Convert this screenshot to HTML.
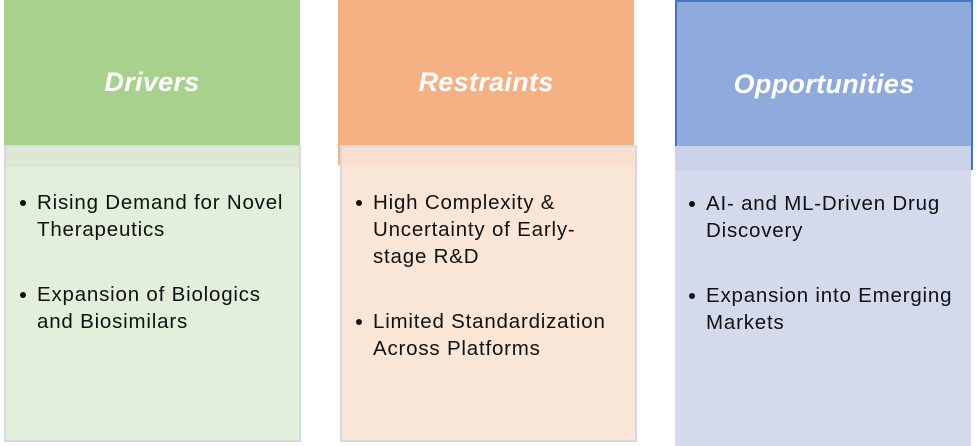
<!DOCTYPE html>
<html><head><style>
body{margin:0;width:977px;height:446px;background:#fff;position:relative;overflow:hidden;font-family:"Liberation Sans",sans-serif}
.h{position:absolute;color:#fff;font-weight:bold;font-style:italic;font-size:27px;display:flex;justify-content:center;box-sizing:border-box;align-items:flex-start;padding-top:67px;letter-spacing:0.3px}
.b{position:absolute;box-sizing:border-box}
.band{position:absolute;left:0;right:0;top:0;height:20px}
ul{margin:0;padding:0;list-style:none;position:absolute;left:0;top:42px;white-space:nowrap}
li{position:relative;padding-left:31px;font-size:20.5px;line-height:27px;color:#111;margin-bottom:38px;letter-spacing:0.8px}
li:before{content:"";position:absolute;left:14px;top:11px;width:6px;height:6px;border-radius:50%;background:#111}
</style></head><body>
<div class="h" style="left:4px;top:0;width:296px;height:165px;background:#a9d18e">Drivers</div>
<div class="b" style="left:4px;top:145px;width:297px;height:297px;background:#e2efda;border:2px solid #d3d9e8">
<div class="band" style="background:#dde8d3"></div>
<ul><li>Rising Demand for Novel<br>Therapeutics</li><li>Expansion of Biologics<br>and Biosimilars</li></ul></div>

<div class="h" style="left:338px;top:0;width:296px;height:165px;background:#f4b183">Restraints</div>
<div class="b" style="left:340px;top:145px;width:297px;height:297px;background:#fae6d7;border:2px solid #d3d9e8">
<div class="band" style="background:#f9dfcd"></div>
<ul><li>High Complexity &amp;<br>Uncertainty of Early-<br>stage R&amp;D</li><li>Limited Standardization<br>Across Platforms</li></ul></div>

<div class="h" style="left:675px;top:0;width:298px;height:170px;background:#8faadc;border:2px solid #4472c4;padding-top:67px">Opportunities</div>
<div class="b" style="left:675px;top:146px;width:296px;height:300px;background:#d4d9ec">
<div class="band" style="background:#cad1e8;height:24px"></div>
<ul style="top:44px"><li>AI- and ML-Driven Drug<br>Discovery</li><li>Expansion into Emerging<br>Markets</li></ul></div>
</body></html>
